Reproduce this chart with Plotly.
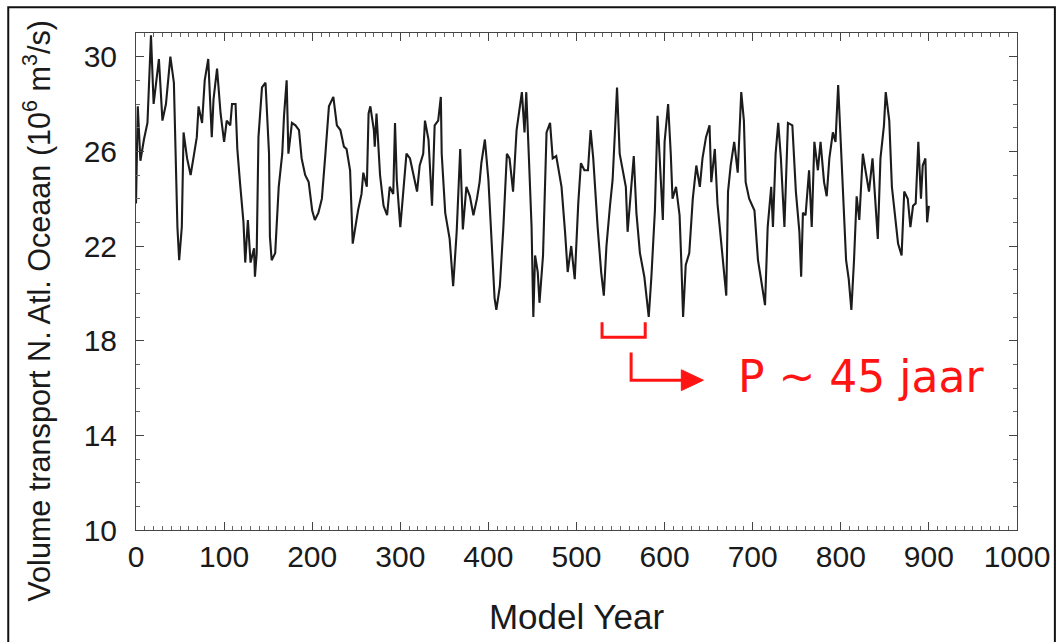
import plotly.graph_objects as go

# Model year and N. Atlantic volume transport (10^6 m^3/s)
years = [0, 2, 5, 9, 13, 17, 20, 26, 30, 34, 39, 43, 47, 49, 52, 54, 58, 62, 66, 69,
         71, 75, 78, 82, 86, 88, 92, 96, 100, 103, 107, 109, 113, 115, 118, 122, 124, 127, 130, 134,
         135, 137, 139, 143, 147, 149, 151, 152, 154, 158, 162, 166, 168, 171, 173, 177, 181, 185, 188, 192,
         196, 200, 203, 207, 211, 215, 219, 224, 228, 232, 236, 239, 243, 246, 249, 252, 256, 258, 262, 264,
         266, 270, 271, 273, 277, 281, 285, 288, 292, 294, 296, 300, 307, 311, 315, 319, 322, 326, 328, 332,
         336, 339, 343, 346, 347, 351, 356, 360, 364, 368, 371, 375, 379, 383, 387, 390, 392, 396, 400, 404,
         407, 409, 413, 417, 421, 424, 428, 432, 436, 438, 441, 443, 446, 449, 451, 453, 456, 458, 462, 466,
         470, 473, 477, 483, 487, 490, 494, 498, 502, 505, 509, 513, 516, 519, 524, 528, 531, 534, 538, 541,
         544, 546, 549, 553, 556, 558, 562, 565, 568, 572, 577, 582, 585, 589, 592, 598, 600, 604, 607, 609,
         613, 617, 619, 621, 624, 628, 632, 636, 640, 643, 647, 651, 653, 657, 660, 664, 670, 672, 675, 679,
         683, 687, 690, 692, 696, 702, 706, 709, 714, 717, 721, 723, 726, 729, 732, 736, 740, 745, 749, 753,
         755, 757, 760, 764, 767, 770, 774, 777, 781, 784, 787, 791, 794, 797, 800, 803, 806, 809, 812, 815,
         818, 821, 825, 828, 832, 836, 840, 842, 845, 849, 851, 855, 858, 861, 865, 869, 872, 876, 879, 882,
         885, 888, 891, 893, 896, 898, 900]
transport = [23.8, 27.9, 25.6, 26.5, 27.2, 30.9, 28.0, 29.9, 27.3, 28.0, 30.0, 28.9, 22.8, 21.4, 22.8, 26.8, 25.7, 25.0, 25.9, 26.6,
             27.9, 27.2, 29.0, 29.9, 26.6, 28.2, 29.5, 27.6, 26.4, 27.3, 27.1, 28.0, 28.0, 26.1, 24.7, 23.0, 21.3, 23.1, 21.3, 21.9,
             20.7, 21.7, 26.6, 28.7, 28.9, 27.6, 25.9, 22.4, 21.4, 21.7, 24.5, 25.9, 27.5, 29.0, 25.9, 27.2, 27.1, 26.9, 25.7, 25.0,
             24.7, 23.5, 23.1, 23.4, 24.0, 25.9, 27.9, 28.3, 27.1, 26.9, 26.2, 26.1, 25.2, 22.1, 22.8, 23.5, 24.2, 25.1, 24.5, 27.6,
             27.9, 26.9, 26.2, 27.6, 25.0, 23.7, 23.3, 24.5, 24.2, 27.2, 24.8, 22.8, 25.9, 25.7, 25.0, 24.3, 25.4, 25.9, 27.3, 26.5,
             23.7, 27.1, 27.3, 28.3, 25.9, 23.4, 22.3, 20.3, 22.6, 26.1, 22.7, 24.5, 24.1, 23.3, 24.0, 24.7, 25.5, 26.5, 24.8, 22.1,
             19.8, 19.3, 20.3, 22.8, 25.9, 25.7, 24.3, 26.9, 28.0, 28.5, 26.8, 28.5, 25.7, 22.8, 19.0, 21.6, 20.9, 19.6, 21.6, 26.8,
             27.2, 25.7, 25.8, 24.5, 22.6, 20.9, 22.0, 20.6, 23.8, 25.5, 25.2, 25.2, 26.9, 25.7, 22.8, 20.9, 19.9, 22.0, 23.7, 24.8,
             27.1, 28.7, 25.9, 25.0, 24.5, 22.6, 24.5, 25.8, 23.4, 21.7, 20.7, 19.0, 20.7, 23.5, 27.5, 23.1, 26.4, 28.0, 25.9, 24.0,
             24.5, 23.3, 21.3, 19.0, 21.2, 21.7, 24.0, 25.4, 24.5, 25.7, 26.6, 27.1, 24.7, 26.1, 23.8, 22.3, 19.9, 24.3, 25.4, 26.4,
             25.1, 28.5, 27.3, 24.7, 24.0, 23.5, 21.4, 20.7, 19.5, 22.8, 24.5, 22.8, 25.9, 27.2, 25.7, 22.8, 27.2, 27.1, 24.3, 22.6,
             20.7, 23.4, 23.3, 25.2, 22.8, 26.4, 25.2, 26.4, 24.7, 24.1, 25.7, 26.8, 26.4, 28.8, 26.4, 23.5, 21.4, 20.6, 19.3, 21.4,
             24.1, 23.1, 25.9, 25.2, 24.3, 25.7, 23.1, 22.3, 25.7, 27.1, 28.5, 27.3, 24.5, 23.4, 22.1, 21.6, 24.3, 24.0, 22.8, 23.7,
             23.8, 26.4, 24.0, 25.4, 25.7, 23.0, 23.7]

x_ticks = [0, 100, 200, 300, 400, 500, 600, 700, 800, 900, 1000]
y_ticks = [10, 14, 18, 22, 26, 30]

# Period annotation (bracket over one cycle, arrow to label)
bracket_years = [529, 578]
bracket_levels = [18.78, 18.14]
arrow_year_start, arrow_year_end = 562, 644
arrow_levels = [17.5, 16.33]
label_text = "P ~ 45 jaar"
y_title = "Volume transport N. Atl. Oceaan (10<sup>6</sup> m<sup>3</sup>/s)"
red = "#ff1414"

fig = go.Figure()
fig.add_trace(go.Scatter(x=years, y=transport, mode="lines",
                         line=dict(color="#1c1c1c", width=2.1), showlegend=False,
                         hoverinfo="x+y"))

shapes = []
shapes.append(dict(type="path", xref="x", yref="y",
                   path=(f"M {bracket_years[0]},{bracket_levels[0]} L {bracket_years[0]},{bracket_levels[1]} "
                         f"L {bracket_years[1]},{bracket_levels[1]} L {bracket_years[1]},{bracket_levels[0]}"),
                   line=dict(color=red, width=3)))
shapes.append(dict(type="path", xref="x", yref="y",
                   path=(f"M {arrow_year_start},{arrow_levels[0]} L {arrow_year_start},{arrow_levels[1]} "
                         f"L {arrow_year_end - 22},{arrow_levels[1]}"),
                   line=dict(color=red, width=3)))
shapes.append(dict(type="path", xref="x", yref="y",
                   path=(f"M {arrow_year_end - 25},{arrow_levels[1] + 0.44} L {arrow_year_end},{arrow_levels[1]} "
                         f"L {arrow_year_end - 25},{arrow_levels[1] - 0.44} Z"),
                   fillcolor=red, line=dict(color=red, width=1)))
# outer frame of the picture
shapes.append(dict(type="rect", xref="paper", yref="paper",
                   x0=-0.145, x1=1.043, y0=-0.3, y1=1.052,
                   line=dict(color="#111", width=2), layer="below"))

fig.update_layout(
    width=1062, height=642,
    margin=dict(l=136, r=42, t=33, b=111),
    paper_bgcolor="white", plot_bgcolor="white",
    font=dict(family="Liberation Sans, Arial, sans-serif", color="#1a1a1a"),
    shapes=shapes,
    annotations=[
        dict(x=681, y=16.5, xref="x", yref="y", text=label_text,
             showarrow=False, xanchor="left", yanchor="middle",
             font=dict(family="DejaVu Sans", size=44, color=red)),
        dict(x=-0.112, y=0.442, xref="paper", yref="paper", text=y_title,
             textangle=-90, showarrow=False, xanchor="center", yanchor="middle",
             font=dict(size=30.6, color="#1a1a1a")),
    ],
    xaxis=dict(range=[0, 1000], tickvals=x_ticks, ticks="inside", ticklen=8,
               tickcolor="#444", showline=True, linecolor="#444", linewidth=1,
               mirror="ticks", showgrid=False, zeroline=False,
               minor=dict(dtick=10, ticks="inside", ticklen=4, tickcolor="#666"),
               tickfont=dict(size=30), ticklabelstandoff=0,
               title=dict(text="Model Year", font=dict(size=35), standoff=32)),
    yaxis=dict(range=[10, 31], tickvals=y_ticks, ticks="inside", ticklen=8,
               tickcolor="#444", showline=True, linecolor="#444", linewidth=1,
               mirror="ticks", showgrid=False, zeroline=False,
               minor=dict(dtick=1, ticks="inside", ticklen=4, tickcolor="#666"),
               tickfont=dict(size=30), ticklabelstandoff=12),
)

fig.write_html("out.html", config={"displayModeBar": False},
               post_script="document.body.style.margin='0';")
